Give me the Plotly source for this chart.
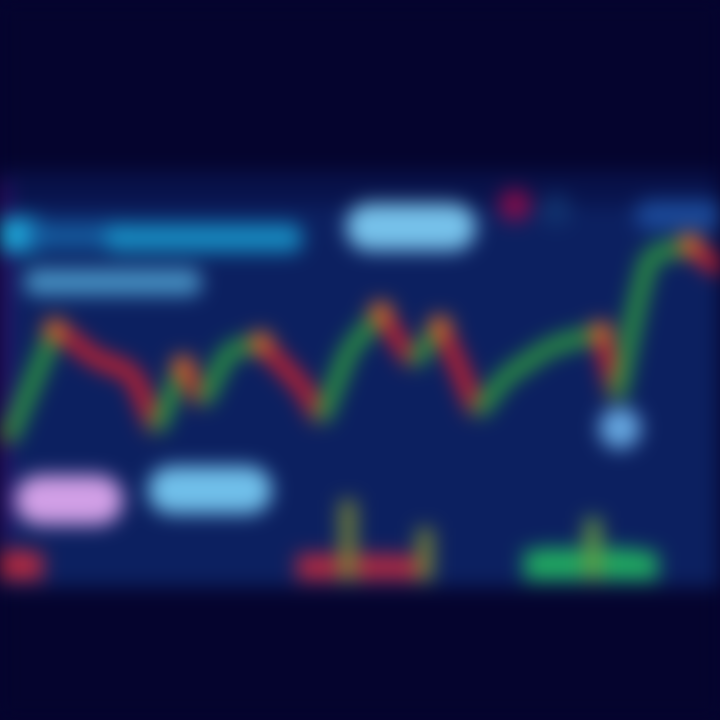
import plotly.graph_objects as go

# ---- data (y = price level, higher = up) ----
price_x = [0, 8, 55, 69, 92, 133, 156, 183, 202, 229, 261, 303, 321, 349, 381, 413, 440, 459, 477, 505, 550, 583, 601, 617, 638, 650, 690, 720]
price_y = [292, 280, 390, 383, 363, 347, 290, 353, 317, 370, 377, 333, 300, 370, 407, 357, 393, 353, 307, 343, 373, 383, 387, 322, 420, 465, 475, 450]

vol_red_x = [5, 20, 35, 305, 320, 335, 362, 378, 395, 410]
vol_red_h = [30, 30, 28, 26, 26, 26, 26, 26, 26, 24]
vol_olive_x = [348, 425]
vol_olive_h = [80, 52]
vol_green_x = [532, 547, 562, 577, 608, 623, 638, 650]
vol_green_h = [30, 32, 32, 32, 32, 32, 30, 28]
vol_green_tall_x = [593]
vol_green_tall_h = [62]

# label blobs: (x0, x1, y, thickness, colour)
blob_x0 = [0, 40, 120, 38, 370, 650, 40, 172]
blob_x1 = [30, 110, 288, 188, 452, 720, 98, 248]
blob_y = [485, 484, 482, 438, 493, 505, 220, 230]
blob_t = [34, 28, 30, 28, 48, 30, 50, 48]
blob_c = ["#1fb0e0", "#155a9e", "#1890c6", "#4a96c8", "#7ccaf2", "#1c4c9c", "#dca6ee", "#76c8f2"]

dot_x = [515, 556, 620]
dot_y = [515, 510, 292]
dot_s = [32, 32, 42]
dot_c = ["#8a0c4a", "#12336f", "#6aaee6"]

BG = "#05042e"
BAND = "#0c2060"
GREEN = "#2f9e3e"
RED = "#d0222c"
ORANGE = "#d66a28"

fig = go.Figure()

# band background
fig.add_shape(type="rect", xref="x", yref="y", x0=-20, x1=740, y0=133, y1=548,
              fillcolor=BAND, line_width=0, layer="below")
fig.add_shape(type="rect", xref="x", yref="y", x0=-20, x1=740, y0=515, y1=548,
              fillcolor="#08124a", line_width=0, layer="below")

def line(xs, ys, color, width, op=0.95):
    fig.add_trace(go.Scatter(x=xs, y=ys, mode="lines", line=dict(color=color, width=width),
                             opacity=op, hoverinfo="skip", showlegend=False))

def dots(xs, ys, color, size, op=0.95):
    fig.add_trace(go.Scatter(x=xs, y=ys, mode="markers",
                             marker=dict(color=color, size=size, line_width=0),
                             opacity=op, hoverinfo="skip", showlegend=False))

# purple left edge
line([2, 2], [180, 540], "#46107a", 12)

# label blobs
for x0, x1, y, t, c in zip(blob_x0, blob_x1, blob_y, blob_t, blob_c):
    xi = [x0 + (x1 - x0) * k / 10 for k in range(11)]
    dots(xi, [y] * 11, c, t)

for x, y, s, c in zip(dot_x, dot_y, dot_s, dot_c):
    dots([x], [y], c, s)

# volume bars
for xs, hs, c in [(vol_red_x, vol_red_h, "#b82a40"), (vol_olive_x, vol_olive_h, "#7c8a34"),
                  (vol_green_x, vol_green_h, "#22b060"), (vol_green_tall_x, vol_green_tall_h, "#6aa040")]:
    fig.add_trace(go.Bar(x=xs, y=hs, base=[140] * len(xs), width=16, marker_color=c,
                         marker_line_width=0, opacity=0.95, hoverinfo="skip", showlegend=False))

# price line: rising segments green, falling red
for i in range(len(price_x) - 1):
    c = GREEN if price_y[i + 1] > price_y[i] else RED
    line(price_x[i:i + 2], price_y[i:i + 2], c, 17)

# orange turning points (local highs)
idx = [i for i in range(1, len(price_x) - 1)
       if price_y[i] > price_y[i - 1] and price_y[i] >= price_y[i + 1]]
dots([price_x[i] for i in idx], [price_y[i] for i in idx], ORANGE, 24)

fig.update_layout(
    width=720, height=720, margin=dict(l=0, r=0, t=0, b=0),
    paper_bgcolor=BG, plot_bgcolor=BG, barmode="overlay", showlegend=False,
    xaxis=dict(range=[0, 720], visible=False, fixedrange=True),
    yaxis=dict(range=[0, 720], visible=False, fixedrange=True),
)

post = ("document.documentElement.style.background='" + BG + "';"
        "document.body.style.margin='0';document.body.style.background='" + BG + "';"
        "document.body.style.overflow='hidden';"
        "var d=document.getElementById('{plot_id}');d.style.filter='blur(10px)';")
fig.write_html("out.html", post_script=post, config={"displayModeBar": False})
